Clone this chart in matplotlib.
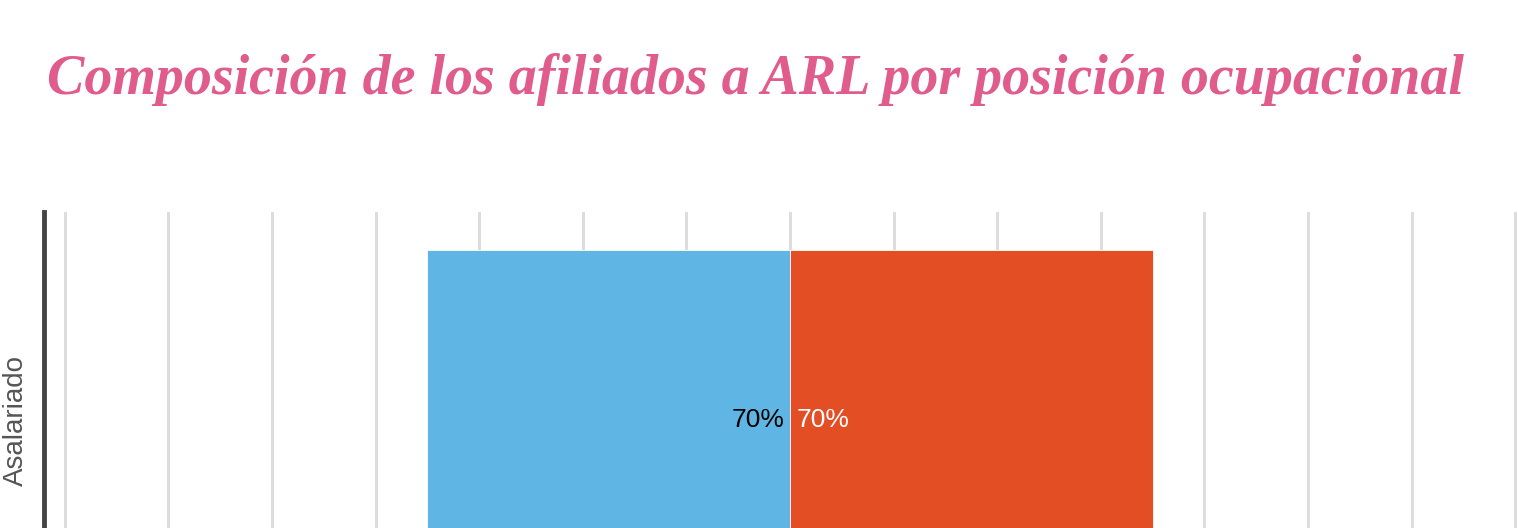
import matplotlib.pyplot as plt
import numpy as np

# data
categories = ["Asalariado"]
left_values = [70]    # blue series, drawn to the left
right_values = [70]   # red series, drawn to the right
left_labels = ["70%"]
right_labels = ["70%"]

title = "Composición de los afiliados a ARL por posición ocupacional"

fig = plt.figure(figsize=(15.18, 5.28), dpi=100)
W, H = 1518, 528

# axes runs past the bottom/right of the figure, as in the cropped original
ax = fig.add_axes([44 / W, (528 - 628) / H, (1536 - 44) / W, 416 / H])

y = np.arange(len(categories))
ax.barh(y, [-v for v in left_values], height=0.817, color="#5FB6E4",
        edgecolor="white", linewidth=0.6, zorder=2)
ax.barh(y, right_values, height=0.817, color="#E44E25",
        edgecolor="white", linewidth=0.6, zorder=2)

for i in range(len(categories)):
    ax.text(-1.1, y[i], left_labels[i], ha="right", va="center",
            fontsize=19, color="black", family="Liberation Sans", zorder=3)
    ax.text(1.2, y[i], right_labels[i], ha="left", va="center",
            fontsize=19, color="white", family="Liberation Sans", zorder=3)

ax.set_xlim(-144, 144)
ax.set_ylim(len(categories) - 0.5, -0.5)
ax.set_xticks(np.arange(-140, 141, 20))
ax.set_xticklabels([])
ax.tick_params(axis="x", length=0)
ax.set_yticks(y)
ax.set_yticklabels(categories, rotation=90, va="center", fontsize=20,
                   color="#555555", family="Liberation Sans")
ax.tick_params(axis="y", length=0, pad=11)
ax.grid(axis="x", color="#DDDDDD", linewidth=2.2, zorder=0)
ax.set_axisbelow(True)

for s in ["top", "right", "bottom"]:
    ax.spines[s].set_visible(False)
ax.spines["left"].set_color("#444444")
ax.spines["left"].set_linewidth(3.5)

fig.text(47 / W, 1 - 79 / H, title, ha="left", va="center", fontsize=40.3,
         color="#E05C8A", family="Liberation Serif", weight="bold", style="italic")

fig.savefig("out.png", dpi=100)
